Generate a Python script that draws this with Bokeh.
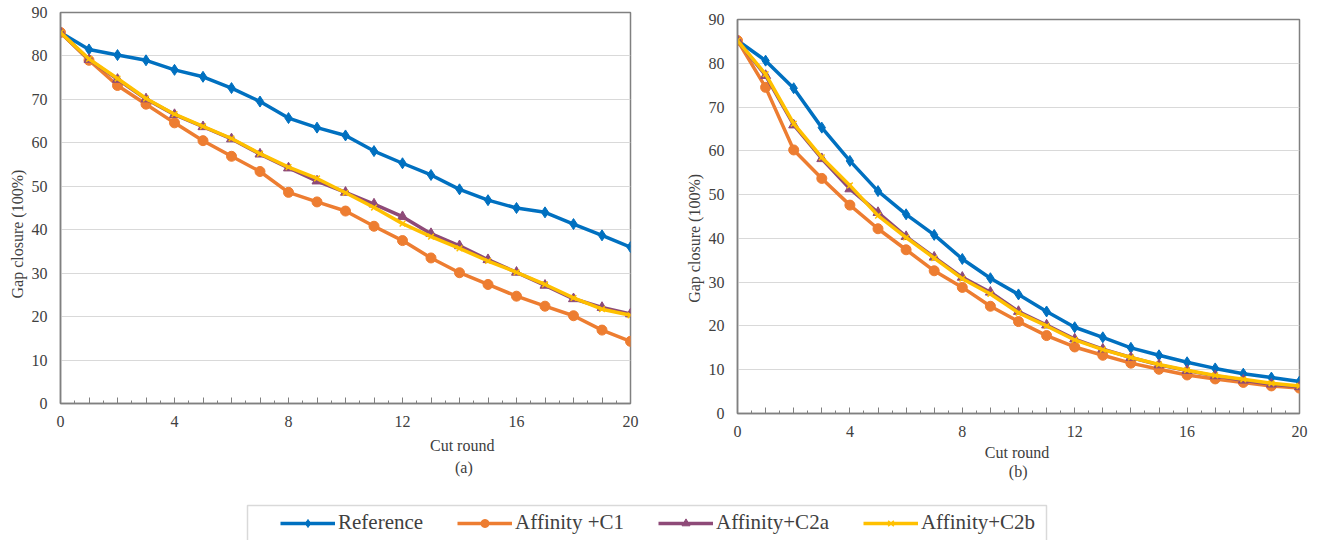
from bokeh.plotting import figure
from bokeh.layouts import column, row
from bokeh.models import Range1d, FixedTicker, Title, Legend, LegendItem
from bokeh.embed import file_html
from bokeh.resources import INLINE

# ---------------- data ----------------
rounds = list(range(21))

ref_a = [85.4, 81.5, 80.2, 79.0, 76.8, 75.2, 72.6, 69.5, 65.7, 63.5, 61.7,
         58.1, 55.3, 52.6, 49.3, 46.8, 45.0, 44.0, 41.3, 38.7, 36.0]
c1_a = [85.4, 79.0, 73.2, 68.9, 64.6, 60.5, 56.9, 53.4, 48.6, 46.4, 44.3,
        40.8, 37.5, 33.5, 30.1, 27.4, 24.7, 22.4, 20.2, 16.9, 14.3]
c2a_a = [85.4, 79.2, 74.6, 70.1, 66.5, 63.7, 60.9, 57.4, 54.2, 51.2, 48.6,
         45.9, 43.0, 39.1, 36.3, 33.1, 30.2, 27.2, 24.1, 22.1, 20.6]
c2b_a = [85.4, 79.3, 74.8, 70.2, 66.6, 63.8, 61.0, 57.5, 54.4, 51.8, 48.5,
         45.1, 41.4, 38.4, 35.7, 32.8, 30.2, 27.4, 24.3, 21.7, 20.3]

ref_b = [85.2, 80.6, 74.3, 65.3, 57.7, 50.8, 45.5, 40.8, 35.3, 30.9, 27.2,
         23.3, 19.7, 17.4, 15.0, 13.3, 11.7, 10.3, 9.1, 8.2, 7.3]
c1_b = [85.2, 74.5, 60.2, 53.7, 47.6, 42.2, 37.4, 32.6, 28.8, 24.5, 21.0,
        17.8, 15.2, 13.3, 11.5, 10.1, 8.8, 7.9, 7.1, 6.3, 5.8]
c2a_b = [85.2, 77.2, 65.9, 58.2, 51.3, 45.9, 40.4, 35.7, 31.1, 27.7, 23.3,
         20.2, 17.0, 14.7, 12.8, 11.1, 9.8, 8.6, 7.6, 6.7, 6.1]
c2b_b = [85.2, 77.5, 66.2, 58.5, 52.1, 45.2, 40.2, 35.5, 30.8, 27.3, 23.0,
         20.0, 16.8, 14.6, 12.8, 11.2, 9.9, 8.7, 7.8, 6.9, 6.3]

series_names = ["Reference", "Affinity +C1", "Affinity+C2a", "Affinity+C2b"]
x_tick_labels = ["0", "4", "8", "12", "16", "20"]
y_ticks = [0, 10, 20, 30, 40, 50, 60, 70, 80, 90]
x_title = "Cut round"
y_title = "Gap closure (100%)"
panel_tags = ["(a)", "(b)"]

# ---------------- style ----------------
FONT = "Liberation Serif"
TXT = "#404040"
AXC = "#808080"
colors = ["#0070C0", "#ED7D31", "#8E4A78", "#FFC000"]
markers = ["diamond", "circle", "triangle", "x"]
msizes = [11, 10, 10, 8]


def make_chart(series, width, height, mbl, mbr, mbt, mbb, tag,
               off_title, off_tag, off_y, title_standoff):
    p = figure(width=width, height=height, output_backend="svg",
               toolbar_location=None, x_range=Range1d(0, 20),
               y_range=Range1d(0, 90), min_border_left=mbl,
               min_border_right=mbr, min_border_top=mbt,
               min_border_bottom=mbb, background_fill_color="white",
               border_fill_color="white")
    p.frame_align = False
    p.outline_line_color = AXC
    p.outline_line_width = 1.5
    p.xgrid.visible = False
    p.ygrid.grid_line_color = "#D9D9D9"
    p.ygrid.grid_line_width = 1.2

    labelled = [int(v) for v in x_tick_labels]
    p.xaxis.ticker = FixedTicker(ticks=rounds,
                                 minor_ticks=[r + 0.5 for r in rounds[:-1]])
    p.xaxis.major_label_overrides = {r: (str(r) if r in labelled else "")
                                     for r in rounds}
    p.yaxis.ticker = FixedTicker(ticks=y_ticks)
    for ax in (p.xaxis, p.yaxis):
        ax.axis_line_color = AXC
        ax.axis_line_width = 1.5
        ax.major_tick_line_color = AXC
        ax.minor_tick_line_color = AXC
        ax.major_tick_out = 0
        ax.minor_tick_out = 0
        ax.major_label_text_font = FONT
        ax.major_label_text_font_size = "16px"
        ax.major_label_text_color = TXT
    p.xaxis.major_tick_in = 6
    p.xaxis.minor_tick_in = 3
    p.xaxis.major_label_standoff = 12
    p.yaxis.major_tick_in = 0
    p.yaxis.minor_tick_in = 0
    p.yaxis.major_label_standoff = 13

    for vals, c, m, s in zip(series, colors, markers, msizes):
        p.line(rounds, vals, line_color=c, line_width=3.5)
        if m == "x":
            p.scatter(rounds, vals, marker=m, size=s, line_color=c,
                      line_width=1.5)
        else:
            p.scatter(rounds, vals, marker=m, size=s, fill_color=c,
                      line_color=c)

    common = dict(text_font=FONT, text_font_size="16px", text_color=TXT,
                  text_font_style="normal", align="left")
    p.add_layout(Title(text=x_title, offset=off_title,
                       standoff=title_standoff, **common), "below")
    p.add_layout(Title(text=tag, offset=off_tag, standoff=0,
                       vertical_align="top", **common), "below")
    p.add_layout(Title(text=y_title, offset=off_y, standoff=6, **common),
                 "left")
    return p


H = 485
p1 = make_chart([ref_a, c1_a, c2a_a, c2b_a], 660, H, 60, 30, 12, H - 403,
                panel_tags[0], 369.5, 394.5, 105, 10)
p2 = make_chart([ref_b, c1_b, c2a_b, c2b_b], 659, H, 77, 20, 19, H - 413,
                panel_tags[1], 247.3, 271.3, 110.7, 4)

# ---------------- shared legend ----------------
LH = 55
leg = figure(width=1319, height=LH, output_backend="svg",
             toolbar_location=None, x_range=Range1d(0, 1319),
             y_range=Range1d(0, LH), min_border=0, min_border_left=0,
             min_border_right=0, min_border_top=0, min_border_bottom=0)
leg.axis.visible = False
leg.grid.visible = False
leg.outline_line_color = None
leg.quad(left=[247], right=[1046], bottom=[-10], top=[LH - 20],
         fill_color="white", line_color="#D9D9D9", line_width=1.5)
items = []
off = [-500, -400]
for name, c, m, s in zip(series_names, colors, markers, msizes):
    lr = leg.line(off, off, line_color=c, line_width=3.5)
    if m == "x":
        sr = leg.scatter(off, off, marker=m, size=s, line_color=c,
                         line_width=1.5)
    else:
        sr = leg.scatter(off, off, marker=m, size=s, fill_color=c,
                         line_color=c)
    items.append(LegendItem(label=name, renderers=[lr, sr]))
legend = Legend(items=items, orientation="horizontal", location=(280, 5),
                glyph_width=55, glyph_height=20, label_standoff=3,
                spacing=34, padding=0, margin=0, border_line_color=None,
                background_fill_alpha=0, label_text_font=FONT,
                label_text_font_size="21px", label_text_color=TXT)
leg.add_layout(legend)

layout = column(row(p1, p2), leg)
open("out.html", "w").write(file_html(layout, INLINE))
